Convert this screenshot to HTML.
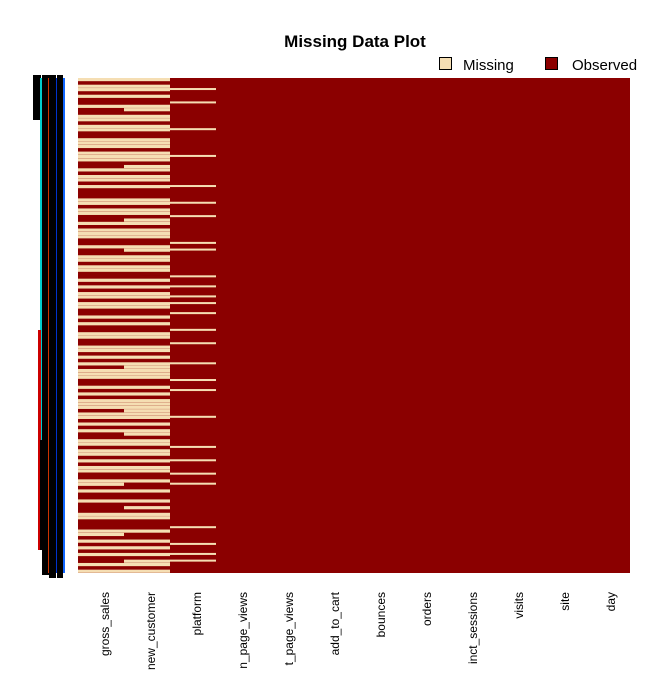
<!DOCTYPE html>
<html><head><meta charset="utf-8"><style>
body{margin:0;background:#fff;}
svg text{font-family:"Liberation Sans",Arial,sans-serif;}
</style></head><body>
<svg id="c" width="672" height="672" viewBox="0 0 672 672">
<text x="355" y="47" text-anchor="middle" font-size="17" font-weight="bold">Missing Data Plot</text>
<g>
<rect x="439.5" y="57.5" width="12" height="12" fill="#f5deb3" stroke="#000"/>
<text x="463" y="70" font-size="15">Missing</text>
<rect x="545.5" y="57.5" width="12" height="12" fill="#8b0000" stroke="#000"/>
<text x="572" y="70" font-size="15">Observed</text>
</g>
<g id="rowlabels">
<rect x="33" y="75" width="8" height="45" fill="#000"/>
<rect x="40" y="78" width="2" height="420" fill="#0cc"/>
<rect x="38" y="330" width="3" height="220" fill="#c00"/>
<rect x="40" y="440" width="3" height="110" fill="#000"/>
<rect x="42" y="75" width="7" height="500" fill="#000"/>
<rect x="48" y="78" width="1" height="495" fill="#c30"/>
<rect x="49" y="75" width="7" height="503" fill="#000"/>
<rect x="56" y="78" width="1" height="495" fill="#03c"/>
<rect x="57" y="75" width="6" height="503" fill="#000"/>
<rect x="63" y="78" width="2" height="495" fill="#16f"/>
</g>
<g id="grid"></g>
<g id="xlabels"></g>
</svg>
<script>
const columns=["gross_sales","new_customer","platform","in_page_views","st_page_views","add_to_cart","bounces","orders","tinct_sessions","visits","site","day"];
const labelText=["gross_sales","new_customer","platform","n_page_views","t_page_views","add_to_cart","bounces","orders","inct_sessions","visits","site","day"];
// 1 = missing, one char per row (top to bottom)
const missGross   ="1011010010011011001110111001011010001101100101110010011011001010110110010100110011010101110010101110110101001101101011001101001000110001101010100101";
const missNewCust ="1011010011011011001110111011011010001101101101110011011011001010110110010100110011010111110010101111110101101101101011001001001010110001001010101101";
const missPlatform="0001000100000001000000010000000010000100010000000101000000010010010100100001000100000100001001000000010000000010001000100100000000000010000100101000";
const missing=[missGross,missNewCust,missPlatform];
const x0=78,x1=630,y0=78,y1=573;
const nRows=missGross.length,colW=(x1-x0)/columns.length,rowH=(y1-y0)/nRows;
const ns="http://www.w3.org/2000/svg";
const g=document.getElementById('grid');
const bg=document.createElementNS(ns,'rect');
bg.setAttribute('x',x0);bg.setAttribute('y',y0);bg.setAttribute('width',x1-x0);bg.setAttribute('height',y1-y0);bg.setAttribute('fill','#8b0000');


g.appendChild(bg);
missing.forEach((s,ci)=>{
  for(let r=0;r<nRows;r++){
    if(s[r]==='1'){
      const rc=document.createElementNS(ns,'rect');
      rc.setAttribute('x',x0+ci*colW);rc.setAttribute('y',y0+r*rowH);
      rc.setAttribute('width',colW);rc.setAttribute('height',rowH*(ci===2?0.6:0.95));
      rc.setAttribute('fill','#f5deb3');
      
      
      g.appendChild(rc);
    }
  }
});
const xl=document.getElementById('xlabels');
labelText.forEach((t,i)=>{
  const cx=x0+(i+0.5)*colW+8;
  const tx=document.createElementNS(ns,'text');
  tx.setAttribute('transform','translate('+cx+',592) rotate(-90)');
  tx.setAttribute('text-anchor','end');tx.setAttribute('font-size','12');
  tx.textContent=t;
  
  
  xl.appendChild(tx);
});
</script>
</body></html>
